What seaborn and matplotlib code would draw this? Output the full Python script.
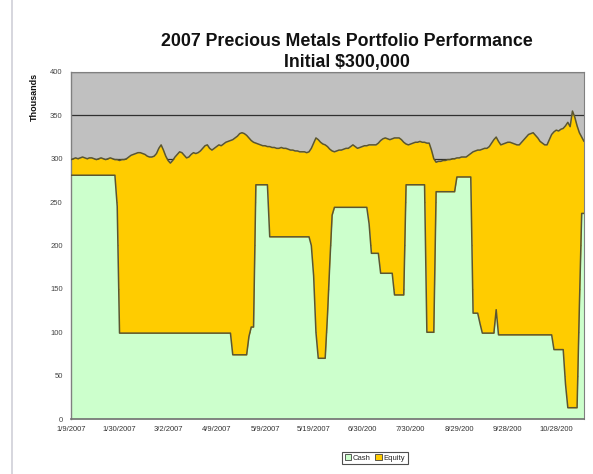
import matplotlib
matplotlib.use("Agg")
import matplotlib.pyplot as plt
from matplotlib.lines import Line2D
from matplotlib.patches import Patch
import numpy as np
import pandas as pd
import seaborn as sns

# Portfolio value per trading day (thousands of dollars)
total = [
    299, 300, 301, 300, 301, 302, 301, 300, 301, 301,
    300, 299, 300, 301, 300, 299, 300, 301, 300, 299,
    299, 298, 299, 299, 300, 302, 304, 305, 306, 307,
    307, 306, 305, 303, 302, 302, 303, 306, 312, 316,
    310, 303, 298, 295, 298, 302, 305, 308, 307, 304,
    301, 302, 305, 307, 306, 307, 309, 312, 315, 316,
    312, 310, 312, 314, 316, 315, 317, 319, 320, 321,
    322, 324, 326, 329, 330, 329, 327, 324, 321, 319,
    318, 317, 316, 315, 315, 314, 314, 313, 313, 312,
    312, 313, 312, 312, 311, 310, 310, 309, 309, 308,
    308, 308, 307, 308, 312, 318, 324, 322, 319, 317,
    316, 314, 311, 309, 308, 309, 310, 310, 311, 312,
    312, 314, 316, 314, 312, 313, 314, 315, 315, 316,
    316, 316, 316, 318, 321, 323, 324, 323, 322, 323,
    324, 324, 324, 322, 319, 317, 316, 317, 318, 319,
    319, 320, 319, 319, 318, 318, 310, 300, 296, 297,
    297, 298, 298, 299, 299, 300, 300, 301, 301, 302,
    302, 302, 304, 306, 308, 309, 310, 310, 311, 312,
    312, 314, 318, 322, 325, 320, 316, 317, 318, 319,
    319, 318, 317, 316, 316, 319, 322, 325, 328, 329,
    330, 327, 324, 320, 318, 316, 316, 322, 328, 331,
    333, 332, 334, 335, 338, 342, 337, 355, 348, 338,
    330, 325, 320,
]

# Cash held per trading day (thousands of dollars)
cash = (
    [281] * 20 + [245] + [99] * 49 + [74] * 7 + [95, 106, 106]
    + [270] * 6 + [210] * 18 + [200, 165, 100] + [70] * 4
    + [120, 180, 235] + [244] * 15 + [225] + [191] * 4 + [168] * 6
    + [143] * 5 + [270] * 9 + [100] * 4 + [262] * 9 + [279] * 7
    + [122] * 3 + [110] + [99] * 6 + [126] + [97] * 24 + [80] * 5
    + [40] + [13] * 5 + [130] + [237] * 2
)

tick_labels = ["1/9/2007", "1/30/2007", "3/2/2007", "4/9/2007", "5/9/2007",
               "5/19/2007", "6/30/200", "7/30/200", "8/29/200", "9/28/200",
               "10/28/200"]
tick_step = 21

df = pd.DataFrame({"day": np.arange(len(total)), "total": total, "cash": cash})

sns.set_style("white")
plt.rcParams["font.family"] = ["Liberation Sans", "DejaVu Sans"]

fig = plt.figure(figsize=(5.93, 4.74), dpi=100)
ax = fig.add_axes([71 / 593, 1 - 419 / 474, 513 / 593, 347 / 474])

GREEN = "#CCFFCC"
GOLD = "#FFCC00"
EDGE = "#5b5630"

ax.set_facecolor("#C0C0C0")
ax.set_axisbelow(True)
ax.yaxis.grid(True, color="#303030", linewidth=0.9)
ax.xaxis.grid(False)

ax.fill_between(df["day"], 0, df["cash"], color=GREEN, linewidth=0, zorder=2)
ax.fill_between(df["day"], df["cash"], df["total"], color=GOLD, linewidth=0, zorder=2)
sns.lineplot(data=df, x="day", y="cash", ax=ax, color=EDGE, linewidth=1.1, zorder=3)
sns.lineplot(data=df, x="day", y="total", ax=ax, color=EDGE, linewidth=1.1, zorder=3)

ax.set_xlim(0, len(total) - 1)
ax.set_ylim(0, 400)
ax.set_yticks(range(0, 401, 50))
ax.set_yticklabels([str(v) for v in range(0, 401, 50)], fontsize=5.5, color="#444444")
ax.set_xticks(np.arange(len(tick_labels)) * tick_step)
ax.set_xticklabels(tick_labels, fontsize=5.5, color="#333333")
ax.tick_params(axis="y", direction="out", length=3, width=0.8, color="#808080", pad=3)
ax.tick_params(axis="x", direction="inout", length=4, width=0.8, color="#404040", pad=3)
ax.set_xlabel("")
ax.set_ylabel("")

for side in ["top", "right"]:
    ax.spines[side].set_visible(True)
    ax.spines[side].set_color("#808080")
    ax.spines[side].set_linewidth(0.8)
ax.spines["left"].set_color("#808080")
ax.spines["left"].set_linewidth(1.0)
ax.spines["bottom"].set_color("#707070")
ax.spines["bottom"].set_linewidth(1.2)

fig.text(347 / 593, 1 - 42 / 474, "2007 Precious Metals Portfolio Performance",
         ha="center", va="center", fontsize=12.8, fontweight="bold", color="#111111")
fig.text(347 / 593, 1 - 63 / 474, "Initial $300,000",
         ha="center", va="center", fontsize=12.8, fontweight="bold", color="#111111")
fig.text(34 / 593, 1 - 97 / 474, "Thousands", rotation=90, ha="center", va="center",
         fontsize=6.5, fontweight="bold", color="#111111")

handles = [Patch(facecolor=GREEN, edgecolor="#404040", linewidth=0.6, label="Cash"),
           Patch(facecolor=GOLD, edgecolor="#404040", linewidth=0.6, label="Equity")]
leg = fig.legend(handles=handles, loc="center", bbox_to_anchor=(375 / 593, 1 - 458 / 474),
                 ncol=2, fontsize=5.5, frameon=True, fancybox=False, edgecolor="#222222",
                 handlelength=0.8, handleheight=0.8, handletextpad=0.3, columnspacing=0.6,
                 borderpad=0.35)
leg.get_frame().set_linewidth(0.8)

fig.add_artist(Line2D([12 / 593, 12 / 593], [0, 1], transform=fig.transFigure,
                      color="#d0d0d8", linewidth=1.2))

fig.savefig("out.png", dpi=100)
